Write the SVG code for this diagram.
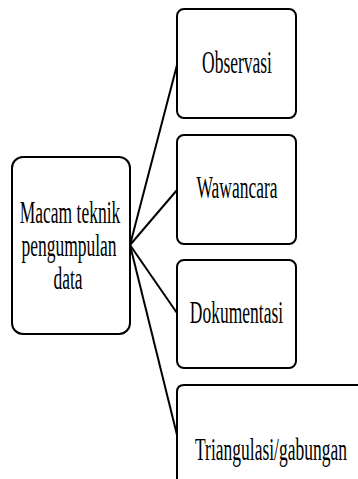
<svg xmlns="http://www.w3.org/2000/svg" width="358" height="479" viewBox="0 0 358 479">
<style>
.box{fill:#fff;stroke:#000;stroke-width:2}
.con{stroke:#000;stroke-width:2;fill:none}
.t{font-family:"Liberation Serif","Times New Roman",serif;font-size:17.5px;fill:#000;text-anchor:middle}
</style>
<rect width="358" height="479" fill="#fff"/>
<g id="connectors">
<line class="con" x1="130" y1="245" x2="177" y2="65"/>
<line class="con" x1="130" y1="245" x2="177" y2="190"/>
<line class="con" x1="130" y1="245" x2="177" y2="313"/>
<line class="con" x1="130" y1="245" x2="177" y2="435"/>
</g>
<g id="root">
<rect class="box" x="12" y="157" width="118" height="177" rx="11"/>
<text class="t" transform="translate(70,223) scale(1,1.82)">Macam teknik</text>
<text class="t" transform="translate(69,256) scale(1,1.82)">pengumpulan</text>
<text class="t" transform="translate(68,289) scale(1,1.82)">data</text>
</g>
<g id="observasi">
<rect class="box" x="177" y="9" width="119" height="109" rx="7"/>
<text class="t" transform="translate(237,73) scale(1,1.82)">Observasi</text>
</g>
<g id="wawancara">
<rect class="box" x="177" y="135" width="119" height="109" rx="7"/>
<text class="t" transform="translate(237,198) scale(1,1.82)">Wawancara</text>
</g>
<g id="dokumentasi">
<rect class="box" x="177" y="260" width="119" height="108" rx="7"/>
<text class="t" transform="translate(236.5,323) scale(1,1.82)">Dokumentasi</text>
</g>
<g id="triangulasi">
<path class="box" d="M177,490 L177,392 Q177,385 184,385 L360,385"/>
<text class="t" transform="translate(271,460) scale(1,1.82)">Triangulasi/gabungan</text>
</g>
</svg>
